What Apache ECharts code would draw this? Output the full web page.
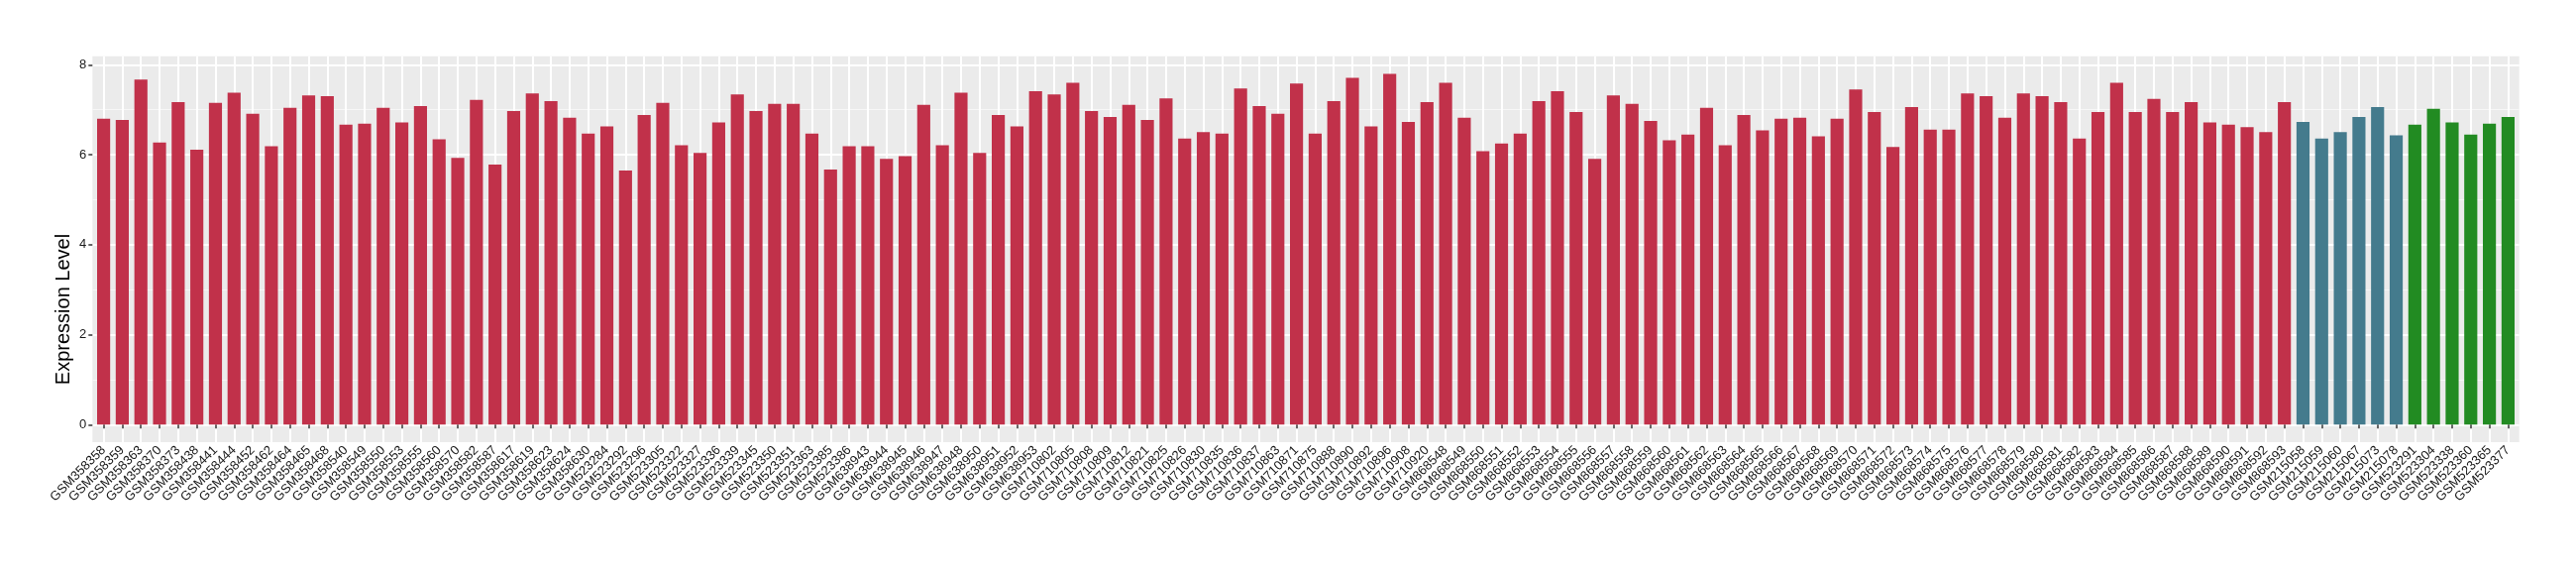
<!DOCTYPE html>
<html><head><meta charset="utf-8">
<script src="https://cdn.jsdelivr.net/npm/echarts@6/dist/echarts.min.js"></script>
<style>html,body{margin:0;padding:0;background:#fff}#c{width:2600px;height:580px}</style>
</head><body><div id="c"></div>
<script>
const categories = [
'GSM358358','GSM358359','GSM358363','GSM358370','GSM358373','GSM358438','GSM358441','GSM358444','GSM358452','GSM358462','GSM358464','GSM358465',
'GSM358468','GSM358540','GSM358549','GSM358550','GSM358553','GSM358555','GSM358560','GSM358570','GSM358582','GSM358587','GSM358617','GSM358619',
'GSM358623','GSM358624','GSM358630','GSM523284','GSM523292','GSM523296','GSM523305','GSM523322','GSM523327','GSM523336','GSM523339','GSM523345',
'GSM523350','GSM523351','GSM523363','GSM523385','GSM523386','GSM638943','GSM638944','GSM638945','GSM638946','GSM638947','GSM638948','GSM638950',
'GSM638951','GSM638952','GSM638953','GSM710802','GSM710805','GSM710808','GSM710809','GSM710812','GSM710821','GSM710825','GSM710826','GSM710830',
'GSM710835','GSM710836','GSM710837','GSM710863','GSM710871','GSM710875','GSM710888','GSM710890','GSM710892','GSM710896','GSM710908','GSM710920',
'GSM868548','GSM868549','GSM868550','GSM868551','GSM868552','GSM868553','GSM868554','GSM868555','GSM868556','GSM868557','GSM868558','GSM868559',
'GSM868560','GSM868561','GSM868562','GSM868563','GSM868564','GSM868565','GSM868566','GSM868567','GSM868568','GSM868569','GSM868570','GSM868571',
'GSM868572','GSM868573','GSM868574','GSM868575','GSM868576','GSM868577','GSM868578','GSM868579','GSM868580','GSM868581','GSM868582','GSM868583',
'GSM868584','GSM868585','GSM868586','GSM868587','GSM868588','GSM868589','GSM868590','GSM868591','GSM868592','GSM868593',
'GSM215058','GSM215059','GSM215060','GSM215067','GSM215073','GSM215078',
'GSM523291','GSM523304','GSM523338','GSM523360','GSM523365','GSM523377'
];
const values = [
6.80,6.77,7.67,6.27,7.17,6.11,7.15,7.38,6.91,6.19,7.04,7.32,
7.30,6.67,6.69,7.04,6.72,7.08,6.34,5.93,7.22,5.78,6.97,7.36,
7.19,6.82,6.47,6.63,5.65,6.88,7.15,6.21,6.04,6.72,7.34,6.97,
7.13,7.13,6.47,5.67,6.19,6.19,5.91,5.97,7.11,6.21,7.38,6.04,
6.88,6.63,7.41,7.34,7.60,6.97,6.84,7.11,6.77,7.25,6.36,6.50,
6.47,7.47,7.08,6.91,7.58,6.47,7.19,7.71,6.63,7.80,6.73,7.17,
7.60,6.82,6.08,6.25,6.47,7.19,7.41,6.95,5.91,7.32,7.13,6.75,
6.32,6.45,7.04,6.21,6.88,6.54,6.80,6.82,6.41,6.80,7.45,6.95,
6.17,7.06,6.56,6.56,7.36,7.30,6.82,7.36,7.30,7.17,6.36,6.95,
7.60,6.95,7.24,6.95,7.17,6.72,6.67,6.61,6.50,7.17,
6.73,6.36,6.50,6.84,7.06,6.43,
6.67,7.02,6.72,6.45,6.69,6.84
];
// number of consecutive samples in each group, and each group's colour
const groupSizes = [118, 6, 6];
const groupColors = ['#C1314A', '#447B8D', '#228B22'];
const yTitle = 'Expression Level';

const colorOf = [];
groupSizes.forEach((n, g) => { for (let i = 0; i < n; i++) colorOf.push(groupColors[g]); });

const FONT = 'Liberation Sans, Arial, Helvetica, sans-serif';
const PL = 93.3, PR = 2542.7, PT = 56.7, PB = 446;
const Y0 = 428.3, Y8 = 65.3;
const ppu = (Y0 - Y8) / 8;
const band = (PR - PL) / (categories.length + 0.2);
const W = 2600, H = 580;

const chart = echarts.init(document.getElementById('c'), null, {renderer: 'canvas'});
chart.setOption({
  animation: false,
  backgroundColor: '#ffffff',
  grid: [
    {left: PL, right: W - PR, top: PT, bottom: H - PB, show: true, backgroundColor: '#EBEBEB', borderWidth: 0, z: -5},
    {left: PL, right: W - PR, top: Y8, bottom: H - Y0, containLabel: false},
    {left: PL + 0.1 * band, right: W - PR + 0.1 * band, top: PT, bottom: H - PB, containLabel: false}
  ],
  xAxis: [
    {gridIndex: 0, type: 'value', min: 0, max: 1, show: false},
    {gridIndex: 1, type: 'value', min: 0, max: 1, show: false},
    {gridIndex: 2, type: 'category', data: categories, boundaryGap: true,
      axisLine: {show: false},
      axisTick: {show: true, alignWithLabel: true, length: 4, lineStyle: {color: '#333333', width: 1.5}},
      splitLine: {show: true, alignWithLabel: true, lineStyle: {color: '#ffffff', width: 2}},
      axisLabel: {interval: 0, rotate: 45, margin: 6, color: '#1A1A1A', fontSize: 13, fontFamily: FONT}
    }
  ],
  yAxis: [
    {gridIndex: 0, type: 'value', min: 0, max: 1, show: false},
    {gridIndex: 1, type: 'value', min: 0, max: 8, interval: 2,
      axisLine: {show: false},
      axisTick: {show: true, length: 4, lineStyle: {color: '#333333', width: 1.5}},
      axisLabel: {color: '#1A1A1A', fontSize: 13, fontFamily: FONT, margin: 6},
      splitLine: {show: true, lineStyle: {color: '#ffffff', width: 2}},
      minorTick: {show: false, splitNumber: 2},
      minorSplitLine: {show: true, lineStyle: {color: '#F7F7F7', width: 1}}
    },
    {gridIndex: 2, type: 'value', min: -(PB - Y0) / ppu, max: 8 + (Y8 - PT) / ppu, show: false}
  ],
  graphic: [{
    type: 'text', x: 64, y: 312, rotation: Math.PI / 2,
    style: {text: yTitle, fontSize: 20, fontFamily: FONT, fill: '#000000', align: 'center', verticalAlign: 'middle'}
  }],
  series: [{
    type: 'bar', xAxisIndex: 2, yAxisIndex: 2,
    barWidth: '70%',
    data: values.map((v, i) => ({value: v, itemStyle: {color: colorOf[i]}})),
    z: 5
  }]
});
</script></body></html>
